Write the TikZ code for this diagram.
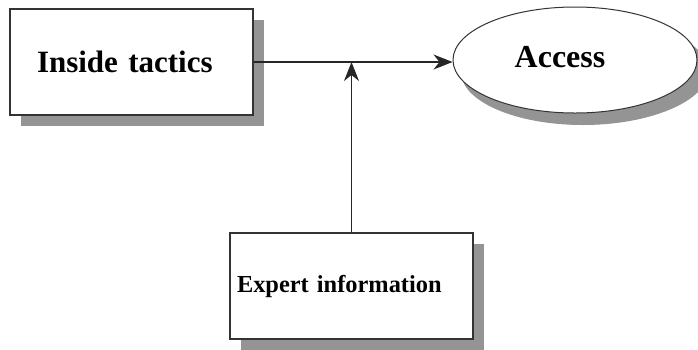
\documentclass[tikz,border=0pt]{standalone}
\usepackage{fontspec}
\setmainfont{Liberation Serif}
\usetikzlibrary{arrows.meta,shadows,shapes.geometric}
\begin{document}
\begin{tikzpicture}[x=1pt,y=-1pt,
  shade box/.style={draw=black!80, line width=1.5pt, fill=white,
    drop shadow={shadow xshift=11pt, shadow yshift=-11pt, fill=black!42, opacity=1}},
  flow/.style={draw=black!85, line width=1.2pt,
    -{Stealth[length=19pt,width=15pt,inset=6pt]}}]
  \useasboundingbox (0,0) rectangle (698,349);
  % boxes
  \node[shade box, rectangle, minimum width=243pt, minimum height=106pt,
        text width=189pt, inner xsep=27pt, align=left,
        font=\fontsize{31}{36}\selectfont\bfseries] (tactics) at (131.5,62) {Inside tactics};
  \node[shade box, ellipse, line width=1pt, minimum width=244pt, minimum height=106pt,
        drop shadow={shadow xshift=8pt, shadow yshift=-12pt, fill=black!42, opacity=1}]
        (access) at (575,60) {};
  \node[font=\fontsize{32}{36}\selectfont\bfseries] (accesstext) at (560,57) {Access};
  \node[shade box, rectangle, minimum width=243pt, minimum height=106pt,
        text width=229pt, inner xsep=7pt, align=left,
        font=\fontsize{24.4}{28}\selectfont\bfseries] (expert) at (351.5,286) {Expert information};
  % connectors
  \draw[flow] (tactics.east) -- (tactics.east -| access.west);
  \draw[flow] (expert.north) -- (expert.north |- tactics.east);
\end{tikzpicture}
\end{document}
